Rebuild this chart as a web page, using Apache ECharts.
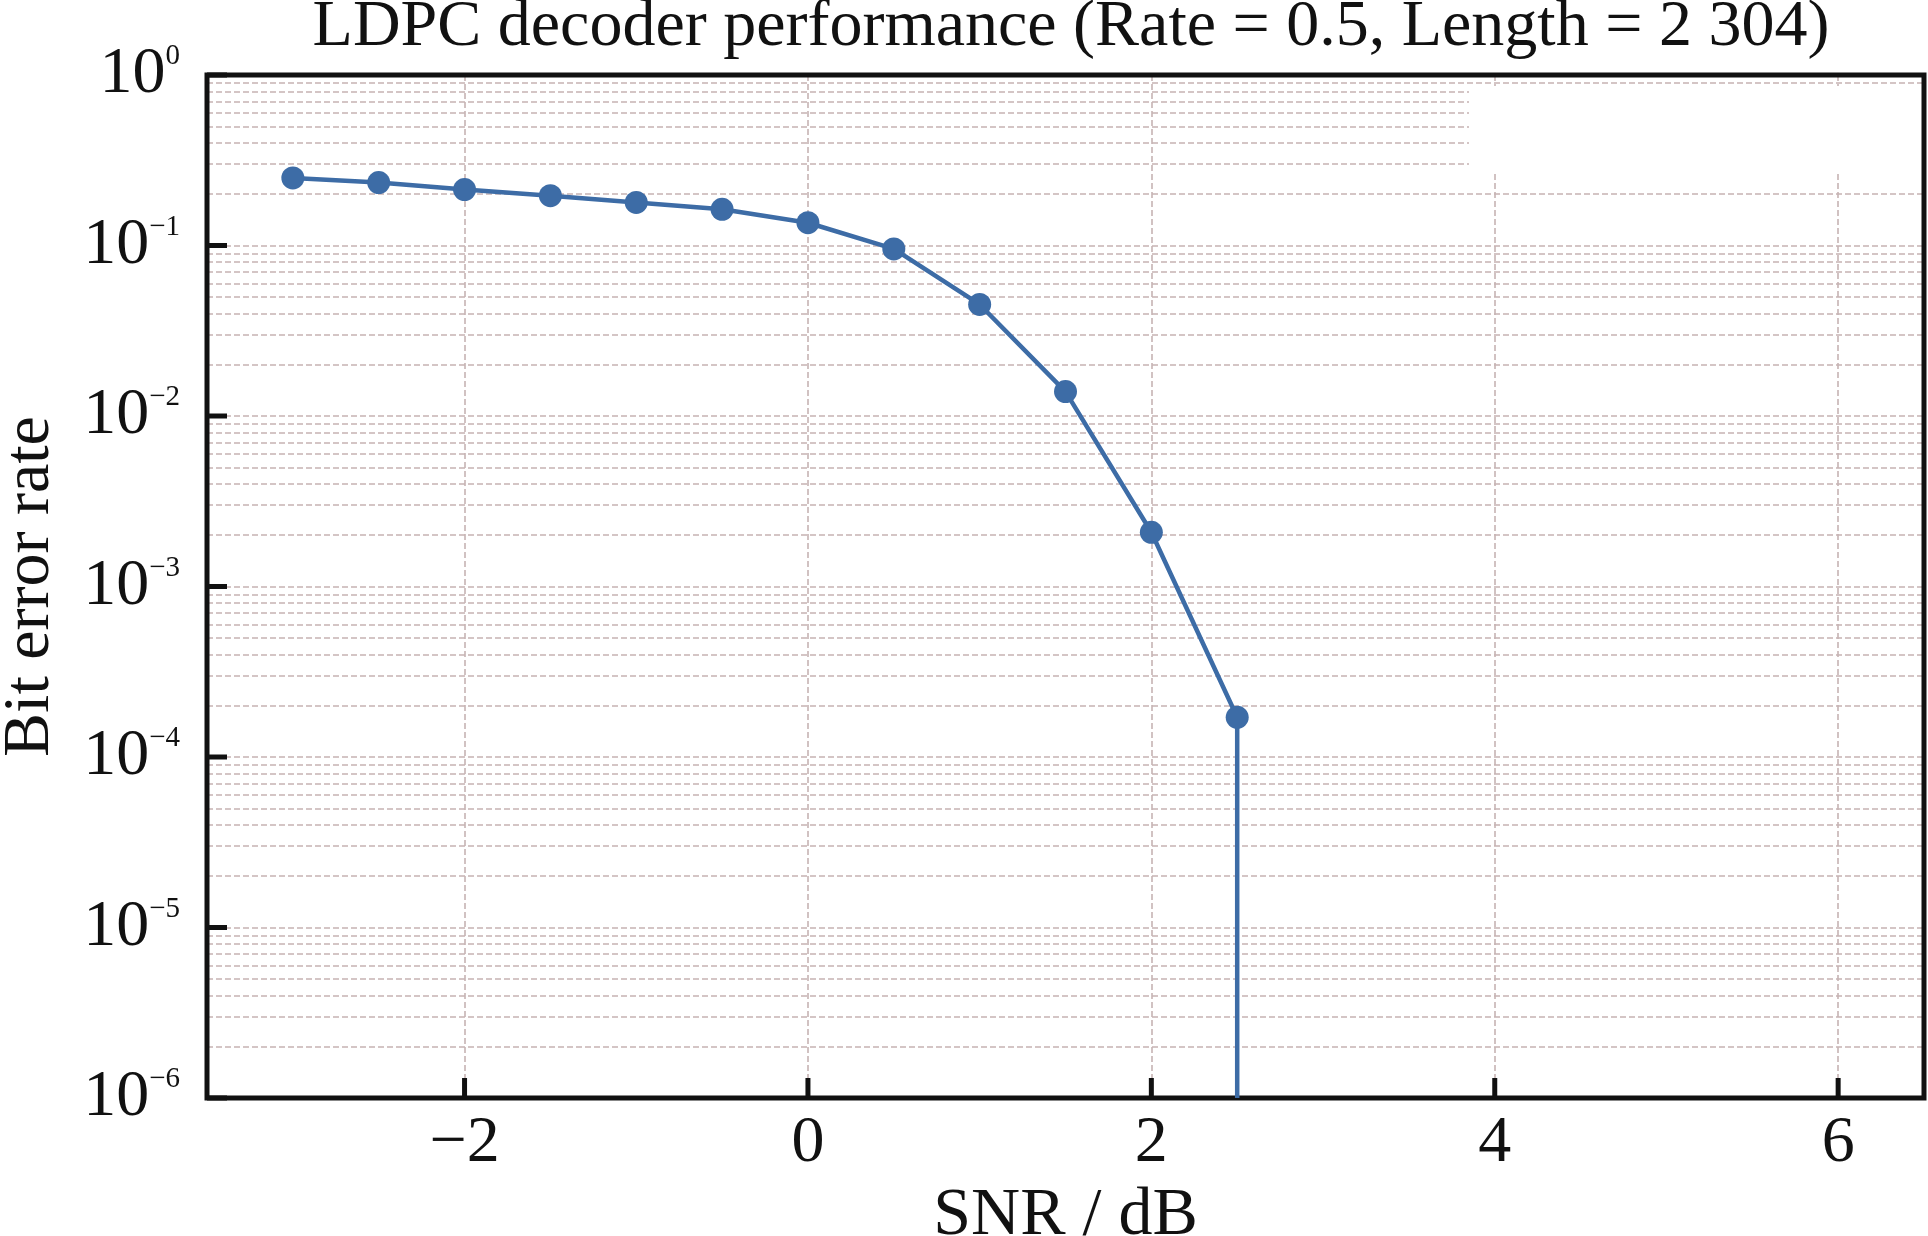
<!DOCTYPE html>
<html>
<head>
<meta charset="utf-8">
<title>LDPC decoder performance</title>
<script src="https://cdn.jsdelivr.net/npm/echarts@6/dist/echarts.min.js"></script>
<style>
  html, body { margin: 0; padding: 0; background: #fff; }
  #chart { width: 1928px; height: 1236px; }
</style>
</head>
<body>
<div id="chart"></div>
<script>
// measured points (SNR in dB, bit error rate)
var snr = [-3, -2.5, -2, -1.5, -1, -0.5, 0, 0.5, 1, 1.5, 2, 2.5];
var ber = [0.249, 0.234, 0.213, 0.196, 0.179, 0.163, 0.136, 0.0955, 0.0451, 0.0139, 0.00208, 1.71e-4];
// at 3 dB no errors were counted, so the curve drops off the log axis
var dropSnr = 2.5;

var xMin = -3.5, xMax = 6.5;
var yMin = 1e-6, yMax = 1;
var xTicks = [-2, 0, 2, 4, 6];
var yTicks = [1e-6, 1e-5, 1e-4, 1e-3, 1e-2, 1e-1, 1];
var decades = [-6, -5, -4, -3, -2, -1];
var mantissas = [1, 2, 3, 4, 5, 6, 7, 8, 9];

var FONT = '"Liberation Serif", "Times New Roman", serif';
var LINE = '#3d6ca6';
var GRID = '#c6b3b3';
var INK = '#111';

var chart = echarts.init(document.getElementById('chart'));

// horizontal grid lines at every 1..9 x 10^k, vertical ones at the x ticks
var hLines = [];
decades.forEach(function (e) {
    mantissas.forEach(function (m) {
        if (e === -6 && m === 1) return; // sits on the bottom spine
        hLines.push({ yAxis: m * Math.pow(10, e) });
    });
});
var vLines = xTicks.map(function (v) { return { xAxis: v }; });

// inward tick marks on the bottom and left spines
var tickMarks = [];
xTicks.forEach(function (v) {
    tickMarks.push({ coord: [v, yMin * 1.0001], symbolSize: [5, 20], symbolOffset: [0, -10] });
});
yTicks.forEach(function (v) {
    tickMarks.push({ coord: [xMin + 0.0001, v], symbolSize: [20, 5], symbolOffset: [10, 0] });
});

var points = snr.map(function (s, i) { return [s, ber[i]]; });

function supText(v) {
    var e = Math.round(Math.log10(v));
    var s = e < 0 ? '\u2212' + (-e) : String(e);
    return '{b|10}{s|' + s + '}';
}

var option = {
    backgroundColor: '#fff',
    animation: false,
    title: {
        text: 'LDPC decoder performance (Rate = 0.5, Length = 2 304)',
        left: 1066,
        top: -10,
        textAlign: 'center',
        textStyle: { fontFamily: FONT, fontSize: 66, fontWeight: 'normal', color: INK }
    },
    grid: {
        left: 207, right: 4, top: 75, bottom: 138,
        outerBoundsMode: 'none',
        containLabel: false,
        show: true,
        borderColor: INK,
        borderWidth: 5
    },
    xAxis: {
        type: 'value',
        min: xMin,
        max: xMax,
        name: 'SNR / dB',
        nameLocation: 'middle',
        nameGap: 84,
        nameTextStyle: { fontFamily: FONT, fontSize: 68, color: INK },
        axisLine: { show: false, onZero: false },
        axisTick: { show: false },
        axisLabel: {
            customValues: xTicks,
            margin: 13,
            fontFamily: FONT, fontSize: 66, color: INK,
            formatter: function (v) { return String(v).replace('-', '\u2212'); }
        },
        splitLine: { show: false }
    },
    yAxis: {
        type: 'log',
        logBase: 10,
        min: yMin,
        max: yMax,
        name: 'Bit error rate',
        nameLocation: 'middle',
        nameGap: 143,
        nameTextStyle: { fontFamily: FONT, fontSize: 66, color: INK },
        axisLine: { show: false, onZero: false },
        axisTick: { show: false },
        axisLabel: {
            margin: 27,
            formatter: supText,
            rich: {
                b: { fontFamily: FONT, fontSize: 66, lineHeight: 66, color: INK },
                s: { fontFamily: FONT, fontSize: 29, lineHeight: 62, verticalAlign: 'top', color: INK }
            }
        },
        splitLine: { show: false }
    },
    series: [
        {
            // grid lines
            type: 'line',
            data: [],
            silent: true,
            markLine: {
                z: -2,
                silent: true,
                precision: 12,
                symbol: ['none', 'none'],
                label: { show: false },
                lineStyle: { color: GRID, width: 1.6, type: [6, 3] },
                data: hLines.concat(vLines)
            }
        },
        {
            // blank patch in the top right corner of the plot
            type: 'line',
            data: [],
            silent: true,
            markArea: {
                z: -1,
                silent: true,
                itemStyle: { color: '#fff', opacity: 1 },
                data: [[{ coord: [3.85, 0.862] }, { coord: [6.49, 0.272] }]]
            }
        },
        {
            type: 'line',
            z: 10,
            data: [[dropSnr, ber[ber.length - 1]], [dropSnr, yMin]],
            showSymbol: false,
            lineStyle: { color: LINE, width: 4.5 }
        },
        {
            name: 'BER',
            type: 'line',
            z: 11,
            data: points,
            symbol: 'circle',
            symbolSize: 23,
            itemStyle: { color: LINE },
            lineStyle: { color: LINE, width: 4.5 },
            markPoint: {
                z: 20,
                silent: true,
                symbol: 'rect',
                label: { show: false },
                itemStyle: { color: INK },
                data: tickMarks
            }
        }
    ]
};

chart.setOption(option);
</script>
</body>
</html>
